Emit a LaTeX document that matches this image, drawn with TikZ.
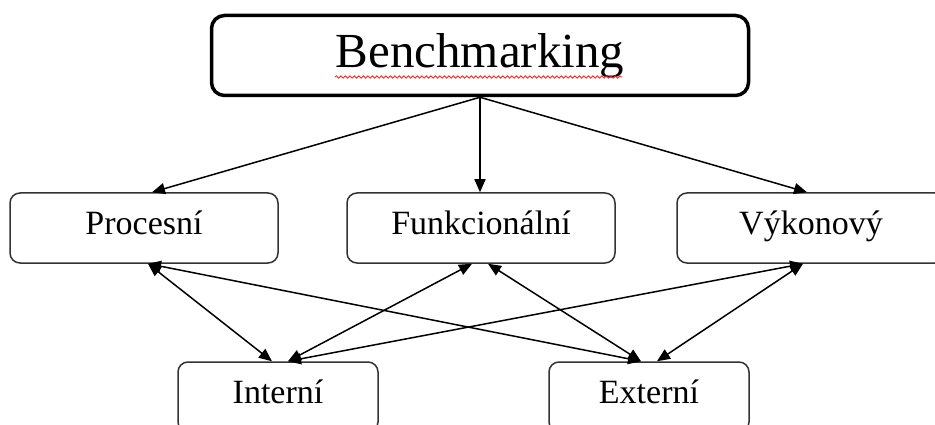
\documentclass[tikz,border=0pt]{standalone}
\usepackage{fontspec}
\setmainfont{Liberation Serif}
\usetikzlibrary{arrows.meta,decorations.pathmorphing}
\begin{document}
\begin{tikzpicture}[x=1pt,y=-1pt,
 topbox/.style={draw=black, line width=3.5pt, rounded corners=13pt, minimum width=537pt, minimum height=80pt, inner sep=0pt, text height=35pt, text depth=10pt, font=\fontsize{49}{55}\selectfont},
 catbox/.style={draw=black!80, line width=1.5pt, rounded corners=10pt, minimum width=268pt, minimum height=70pt, inner sep=0pt, text height=20pt, text depth=8pt, font=\fontsize{34}{40}\selectfont},
 kindbox/.style={catbox, minimum width=200pt},
 link/.style={line width=1.5pt, -{Triangle[length=13pt,width=11pt]}},
 dlink/.style={line width=1.5pt, {Triangle[length=13pt,width=11pt]}-{Triangle[length=13pt,width=11pt]}},
 squiggle/.style={draw=red!90, line width=0.8pt, decorate, decoration={snake, amplitude=1.2pt, segment length=4.5pt}}]
\useasboundingbox (0,0) rectangle (935,425);
\clip (0,0) rectangle (935,425);

\node[topbox] (bench) at (480,55.5) {Benchmarking};
\coordinate (sqA) at (335,77);
\coordinate (sqB) at (622,77);
\draw[squiggle] (sqA) -- (sqB);

\node[catbox] (proc) at (144,228) {Procesní};
\node[catbox] (func) at (481,228) {Funkcionální};
\node[catbox] (vyk) at (811,228) {Výkonový};

\node[kindbox] (int) at (278,397) {Interní};
\node[kindbox] (ext) at (649,397) {Externí};

% top arrows
\draw[link] (bench.south) -- ([xshift=8pt]proc.north);
\draw[link] (bench.south) -- ([xshift=-1pt]func.north);
\draw[link] (bench.south) -- ([xshift=-4pt]vyk.north);

% double arrows
\draw[dlink] ([xshift=4pt]proc.south) -- ([xshift=-6pt]int.north);
\draw[dlink] ([xshift=4pt]proc.south) -- ([xshift=-8pt]ext.north);
\draw[dlink] ([xshift=-9pt]func.south) -- ([xshift=10pt]int.north);
\draw[dlink] ([xshift=7pt]func.south) -- ([xshift=-8pt]ext.north);
\draw[dlink] ([xshift=-8pt]vyk.south) -- ([xshift=10pt]int.north);
\draw[dlink] ([xshift=-8pt]vyk.south) -- ([xshift=8pt]ext.north);
\end{tikzpicture}
\end{document}
